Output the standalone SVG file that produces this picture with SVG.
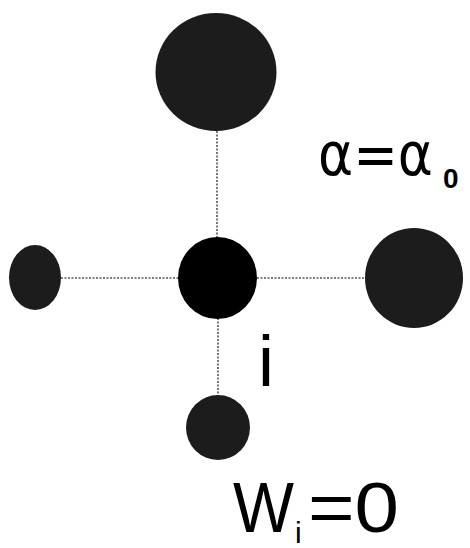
<svg xmlns="http://www.w3.org/2000/svg" width="470" height="548" viewBox="0 0 470 548">
<style>
.link{stroke:#555;stroke-width:1.6;stroke-dasharray:2 1.5;fill:none}
.tex{fill:#1c1c1c}
.core{fill:#000}
.lbl{font-family:"Liberation Sans",Arial,sans-serif;fill:#000}
.gr{font-family:"DejaVu Sans",sans-serif;fill:#000}
</style>
<rect width="470" height="548" fill="#fff"/>
<g id="connectors">
<line class="link" x1="61" y1="278" x2="178" y2="278"/>
<line class="link" x1="257" y1="278" x2="366" y2="278"/>
<line class="link" x1="217" y1="131" x2="217" y2="238"/>
<line class="link" x1="218" y1="318" x2="218" y2="396"/>
</g>
<g id="node-top"><ellipse class="tex" cx="216" cy="72" rx="60.5" ry="59"/></g>
<g id="node-left"><ellipse class="tex" cx="35" cy="277.5" rx="26" ry="32.5"/></g>
<g id="node-center"><ellipse class="core" cx="217.5" cy="278" rx="39.5" ry="41"/></g>
<g id="node-right"><ellipse class="tex" cx="414" cy="278" rx="49" ry="50"/></g>
<g id="node-bottom"><ellipse class="tex" cx="218" cy="427.5" rx="32" ry="32.5"/></g>
<g id="labels">
<text class="gr" x="318" y="175" font-size="60" textLength="115" lengthAdjust="spacingAndGlyphs">α=α</text>
<text class="lbl" x="443" y="188" font-size="28" font-weight="bold">0</text>
<text class="lbl" x="258" y="386" font-size="72">i</text>
<text class="lbl" x="233" y="532" font-size="70" textLength="61" lengthAdjust="spacingAndGlyphs">W</text>
<text class="lbl" x="295" y="543" font-size="30">i</text>
<text class="lbl" x="308" y="532" font-size="70" textLength="91" lengthAdjust="spacingAndGlyphs">=0</text>
</g>
</svg>
